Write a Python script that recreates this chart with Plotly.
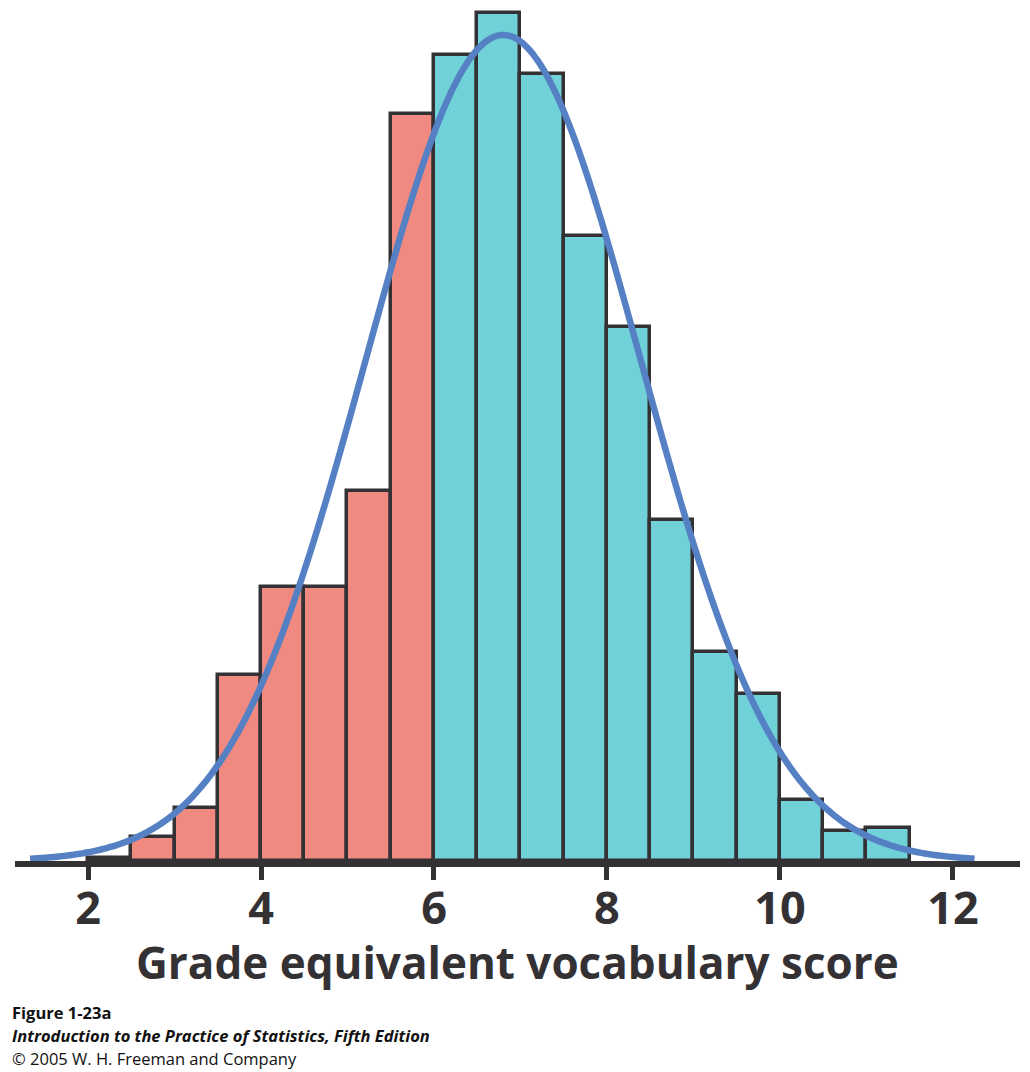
import numpy as np
import plotly.graph_objects as go

# Histogram data (bin width 0.5)
bin_left = [2.0, 2.5, 3.0, 3.5, 4.0, 4.5, 5.0, 5.5, 6.0, 6.5, 7.0, 7.5, 8.0, 8.5, 9.0, 9.5, 10.0, 10.5, 11.0]
bar_heights = [3, 24, 53, 186, 274, 274, 370, 747, 806, 848, 787, 625, 534, 341, 209, 167, 61, 30, 33]
bin_width = 0.5
split_value = 6.0

# Fitted normal curve parameters
curve_mean = 6.80
curve_sd = 1.59
curve_peak = 826
curve_start = 1.33
curve_end = 12.25

tick_vals = [2, 4, 6, 8, 10, 12]
tick_text = ["2", "4", "6", "8", "10", "12"]

SALMON = "#F08A80"
CYAN = "#70D2D8"
OUTLINE = "#333133"
BLUE = "#5580C4"
TEXT = "#333133"

centers = [b + bin_width / 2 for b in bin_left]
colors = [SALMON if b < split_value else CYAN for b in bin_left]

cx = np.linspace(curve_start, curve_end, 400)
cy = curve_peak * np.exp(-0.5 * ((cx - curve_mean) / curve_sd) ** 2)

fig = go.Figure()
fig.add_trace(go.Bar(
    x=centers, y=bar_heights, width=bin_width,
    marker=dict(color=colors, line=dict(color=OUTLINE, width=3.5)),
    hoverinfo="skip",
))
fig.add_trace(go.Scatter(
    x=cx, y=cy, mode="lines",
    line=dict(color=BLUE, width=6.5, shape="spline"),
    hoverinfo="skip",
))

fig.update_layout(
    width=1030, height=1072,
    margin=dict(l=15, r=10, t=5, b=211),
    paper_bgcolor="white", plot_bgcolor="white",
    showlegend=False,
    bargap=0,
    xaxis=dict(
        range=[1.156, 12.775],
        tickvals=tick_vals, ticktext=tick_text,
        showline=True, linecolor=OUTLINE, linewidth=6,
        ticks="outside", ticklen=13, tickwidth=5, tickcolor=OUTLINE,
        ticklabelstandoff=-10,
        tickfont=dict(family="Open Sans", size=45, color=TEXT, weight="bold"),
        showgrid=False, zeroline=False,
    ),
    yaxis=dict(
        range=[0, 856], visible=False, showgrid=False, zeroline=False,
    ),
    annotations=[
        dict(text="<b>Grade equivalent vocabulary score</b>", xref="paper", yref="paper",
             x=0.5, y=-0.1175, xanchor="center", yanchor="middle", showarrow=False,
             font=dict(family="Open Sans", size=44, color=TEXT)),
        dict(text="<b>Figure 1-23a</b>", xref="paper", yref="paper",
             x=-0.005, y=(861 - 1012) / 856, xanchor="left", yanchor="middle", showarrow=False,
             font=dict(family="Open Sans", size=16.5, color="#111111")),
        dict(text="<b><i>Introduction to the Practice of Statistics, Fifth Edition</i></b>", xref="paper", yref="paper",
             x=-0.005, y=(861 - 1035) / 856, xanchor="left", yanchor="middle", showarrow=False,
             font=dict(family="Open Sans", size=16.5, color="#111111")),
        dict(text="© 2005 W. H. Freeman and Company", xref="paper", yref="paper",
             x=-0.005, y=(861 - 1058) / 856, xanchor="left", yanchor="middle", showarrow=False,
             font=dict(family="Open Sans", size=16.5, color="#111111")),
    ],
)

fig.write_html("out.html")
